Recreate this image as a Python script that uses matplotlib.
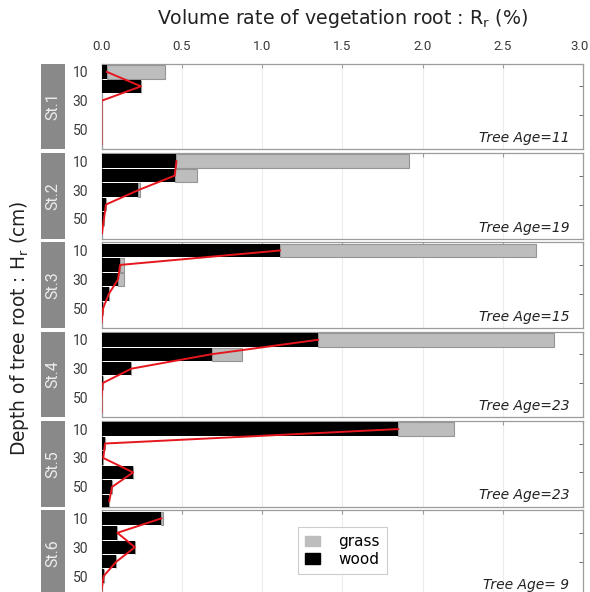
import matplotlib
matplotlib.use("Agg")
import matplotlib.pyplot as plt
from matplotlib.patches import Rectangle, Patch
from matplotlib.transforms import ScaledTranslation

plt.rcParams['font.family'] = ['DejaVu Sans']
plt.rcParams['mathtext.default'] = 'regular'

# Root volume rate (%) per 10 cm depth layer
depths = [10, 20, 30, 40, 50, 60]
stations = ["St.1", "St.2", "St.3", "St.4", "St.5", "St.6"]
tree_ages = ["11", "19", "15", "23", "23", " 9"]

wood = [
    [0.033, 0.246, 0.000, 0.000, 0.000, 0.000],
    [0.467, 0.456, 0.230, 0.028, 0.015, 0.003],
    [1.112, 0.116, 0.103, 0.046, 0.010, 0.000],
    [1.349, 0.686, 0.186, 0.007, 0.000, 0.000],
    [1.849, 0.022, 0.011, 0.197, 0.066, 0.048],
    [0.373, 0.099, 0.208, 0.092, 0.013, 0.000],
]
grass = [
    [0.362, 0.000, 0.000, 0.000, 0.000, 0.000],
    [1.447, 0.140, 0.011, 0.000, 0.000, 0.000],
    [1.596, 0.022, 0.040, 0.000, 0.000, 0.000],
    [1.473, 0.191, 0.000, 0.000, 0.000, 0.000],
    [0.346, 0.000, 0.000, 0.000, 0.000, 0.000],
    [0.011, 0.000, 0.000, 0.000, 0.000, 0.000],
]
x_ticks = [0.0, 0.5, 1.0, 1.5, 2.0, 2.5, 3.0]
y_ticks = [10, 30, 50]

W, H = 590, 592
fig = plt.figure(figsize=(W / 100, H / 100), dpi=100)

tick_font = "Roboto"
ax_left, ax_width = 101.5, 481.5
ax_top0, ax_step, ax_h = 63.8, 89.3, 85.5
spine_col = "#9c9c9c"

for i, st in enumerate(stations):
    top = ax_top0 + i * ax_step
    ax = fig.add_axes([ax_left / W, 1 - (top + ax_h) / H, ax_width / W, ax_h / H])

    ax.barh(depths, wood[i], height=9.3, color="black", edgecolor="none", zorder=3)
    ax.barh(depths, grass[i], left=wood[i], height=9.3, color="#bdbdbd",
            edgecolor="#959595", linewidth=0.8, zorder=2)
    ax.plot(wood[i], depths, color="#e5161d", linewidth=1.4, zorder=4)

    ax.set_xlim(0, 3.0)
    ax.set_ylim(63.6, 4.4)
    for xv in x_ticks[1:-1]:
        ax.axvline(xv, color="#ececec", linewidth=0.8, zorder=0)

    ax.xaxis.tick_top()
    ax.set_xticks(x_ticks)
    ax.tick_params(axis="x", direction="in", length=3, color=spine_col,
                   labeltop=(i == 0), labelbottom=False, bottom=False, pad=8,
                   labelsize=9.5, labelcolor="#3a3a3a")
    ax.set_xticklabels([f"{v:.1f}" for v in x_ticks], family=tick_font)
    if i == 0:
        last = ax.get_xticklabels()[-1]
        last.set_transform(last.get_transform() +
                           ScaledTranslation(-3 / 100, 0, fig.dpi_scale_trans))
    ax.set_yticks(y_ticks)
    ax.set_yticklabels([str(v) for v in y_ticks], family=tick_font)
    ax.set_yticks([10, 20, 30, 40, 50], minor=True)
    ax.tick_params(axis="y", which="major", left=False, right=False, pad=6,
                   labelsize=10, labelcolor="#3a3a3a")
    ax.tick_params(axis="y", which="minor", left=False, right=True,
                   direction="in", length=3, color="#555555")
    for sp in ax.spines.values():
        sp.set_color(spine_col)
        sp.set_linewidth(0.9)

    ax.text(0.972, 0.083, f"Tree Age={tree_ages[i]}", transform=ax.transAxes,
            ha="right", va="baseline", fontsize=10, style="italic",
            color="#222222")

    # station tag on the left margin
    fig.add_artist(Rectangle((41 / W, 1 - (top + ax_h) / H), 23.5 / W, ax_h / H,
                             transform=fig.transFigure, facecolor="#898989",
                             edgecolor="none"))
    fig.text(52.8 / W, 1 - (top + ax_h / 2) / H, st, rotation=90,
             ha="center", va="center", color="#ececec", fontsize=11.5,
             family=tick_font)

    if i == 5:
        handles = [Patch(facecolor="#bdbdbd", edgecolor="#bdbdbd", label="grass"),
                   Patch(facecolor="black", edgecolor="black", label="wood")]
        leg = ax.legend(handles=handles, loc="center", bbox_to_anchor=(0.5, 0.53),
                        fontsize=11, frameon=True, fancybox=False,
                        edgecolor="#c0c0c0", handlelength=1.0, handleheight=0.7,
                        handletextpad=1.2, borderpad=0.45, labelspacing=0.15)
        leg.get_frame().set_linewidth(0.8)

fig.text(343 / W, 1 - 19 / H, "Volume rate of vegetation root : R$_{r}$ (%)",
         ha="center", va="center", fontsize=13.7, color="#222222")
fig.text(20 / W, 1 - 328 / H, "Depth of tree root : H$_{r}$ (cm)", rotation=90,
         ha="center", va="center", fontsize=13.4, color="#222222")

fig.savefig("out.png", dpi=100)
